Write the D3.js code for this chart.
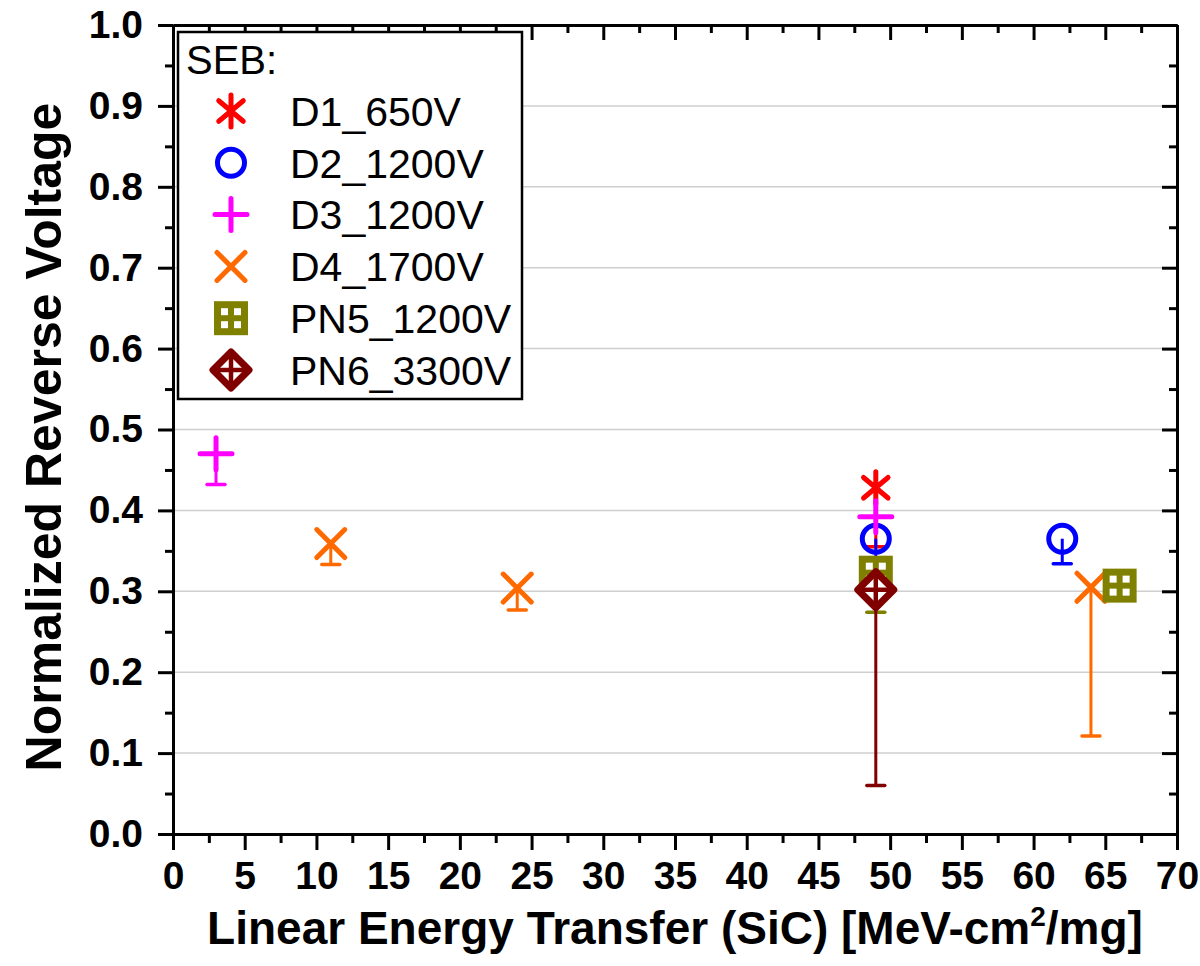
<!DOCTYPE html>
<html>
<head>
<meta charset="utf-8">
<script src="https://cdn.jsdelivr.net/npm/d3@7"></script>
<style>
  html, body { margin: 0; padding: 0; background: #fff; }
  svg text { font-family: "Liberation Sans", Arial, sans-serif; }
</style>
</head>
<body>
<div id="chart"></div>
<script>
// Our canvas
const width = 1200,
  height = 966

const plotLeft = 173,
  plotRight = 1177,
  plotTop = 25,
  plotBottom = 834

// Data (LET in MeV-cm2/mg, normalized reverse voltage, lower error end)
const seriesNames = ['D1_650V', 'D2_1200V', 'D3_1200V', 'D4_1700V', 'PN5_1200V', 'PN6_3300V']
const seriesColors = ['#ff0000', '#0000ff', '#ff00ff', '#ff6a00', '#808000', '#800000']
const seriesSymbols = ['asterisk', 'circle', 'plus', 'cross', 'square', 'diamond']

const d1X = [49], d1Y = [0.428], d1Low = [0.355]
const d2X = [49, 62], d2Y = [0.365, 0.365], d2Low = [0.333, 0.334]
const d3X = [3, 49], d3Y = [0.470, 0.392], d3Low = [0.432, null]
const d4X = [11, 24, 64], d4Y = [0.359, 0.304, 0.305], d4Low = [0.333, 0.277, 0.121]
const pn5X = [49, 66], pn5Y = [0.323, 0.307], pn5Low = [0.274, null]
const pn6X = [49], pn6Y = [0.302], pn6Low = [0.060]

const xTicks = [0, 5, 10, 15, 20, 25, 30, 35, 40, 45, 50, 55, 60, 65, 70]
const yTicks = [0.0, 0.1, 0.2, 0.3, 0.4, 0.5, 0.6, 0.7, 0.8, 0.9, 1.0]
const xMinorTicks = [2.5, 7.5, 12.5, 17.5, 22.5, 27.5, 32.5, 37.5, 42.5, 47.5, 52.5, 57.5, 62.5, 67.5]
const yMinorTicks = [0.05, 0.15, 0.25, 0.35, 0.45, 0.55, 0.65, 0.75, 0.85, 0.95]

const legendTitle = 'SEB:'
const xTitle = 'Linear Energy Transfer (SiC) [MeV-cm'
const xTitleSup = '2'
const xTitleEnd = '/mg]'
const yTitle = 'Normalized Reverse Voltage'

const allX = [d1X, d2X, d3X, d4X, pn5X, pn6X],
  allY = [d1Y, d2Y, d3Y, d4Y, pn5Y, pn6Y],
  allLow = [d1Low, d2Low, d3Low, d4Low, pn5Low, pn6Low]

let series = seriesNames.map((name, i) => ({
  name: name,
  color: seriesColors[i],
  symbol: seriesSymbols[i],
  points: allX[i].map((x, j) => ({ x: x, y: allY[i][j], low: allLow[i][j] }))
}))

let xScale = d3.scaleLinear().domain([0, 70]).range([plotLeft, plotRight])
let yScale = d3.scaleLinear().domain([0, 1]).range([plotBottom, plotTop])

// Drawing area
let svg = d3.select('#chart')
  .append('svg')
  .attr('width', width)
  .attr('height', height)

// grid lines
svg.append('g')
  .selectAll('line')
  .data(yTicks.filter(t => t > 0 && t < 1))
  .enter()
  .append('line')
  .attr('x1', plotLeft)
  .attr('x2', plotRight)
  .attr('y1', d => yScale(d))
  .attr('y2', d => yScale(d))
  .attr('stroke', '#cfcfcf')
  .attr('stroke-width', 1.5)

// markers
let drawMarker = (g, symbol, color) => {
  let sw = 5
  if (symbol === 'asterisk') {
    let r = 16, a = 40 * Math.PI / 180
    let dx = r * Math.cos(a), dy = r * Math.sin(a)
    g.append('path')
      .attr('d', `M0,${-r}L0,${r}M${-dx},${-dy}L${dx},${dy}M${-dx},${dy}L${dx},${-dy}`)
      .attr('stroke', color).attr('stroke-width', sw).attr('stroke-linecap', 'round').attr('fill', 'none')
  } else if (symbol === 'circle') {
    g.append('circle').attr('r', 13.5)
      .attr('stroke', color).attr('stroke-width', sw).attr('fill', 'none')
  } else if (symbol === 'plus') {
    let r = 16
    g.append('path').attr('d', `M${-r},0L${r},0M0,${-r}L0,${r}`)
      .attr('stroke', color).attr('stroke-width', sw).attr('stroke-linecap', 'round').attr('fill', 'none')
  } else if (symbol === 'cross') {
    let r = 14
    g.append('path').attr('d', `M${-r},${-r}L${r},${r}M${-r},${r}L${r},${-r}`)
      .attr('stroke', color).attr('stroke-width', sw).attr('stroke-linecap', 'round').attr('fill', 'none')
  } else if (symbol === 'square') {
    let r = 17
    g.append('rect').attr('x', -r).attr('y', -r).attr('width', 2 * r).attr('height', 2 * r)
      .attr('fill', color)
    ;[[-10, -10], [3, -10], [-10, 3], [3, 3]].forEach(p => {
      g.append('rect').attr('x', p[0]).attr('y', p[1]).attr('width', 7).attr('height', 7)
        .attr('fill', '#fff')
    })
  } else if (symbol === 'diamond') {
    let r = 18
    g.append('path').attr('d', `M0,${-r}L${r},0L0,${r}L${-r},0Z`)
      .attr('stroke', color).attr('stroke-width', 7).attr('stroke-linejoin', 'round').attr('fill', '#fff')
    g.append('path').attr('d', `M${-r},0L${r},0M0,${-r}L0,${r}`)
      .attr('stroke', color).attr('stroke-width', 4.5).attr('fill', 'none')
  }
}

// error bars + points
series.forEach(s => {
  let g = svg.append('g')
  s.points.forEach(p => {
    if (p.low !== null) {
      g.append('line')
        .attr('x1', xScale(p.x)).attr('x2', xScale(p.x))
        .attr('y1', yScale(p.y)).attr('y2', yScale(p.low))
        .attr('stroke', s.color).attr('stroke-width', 3)
      g.append('line')
        .attr('x1', xScale(p.x) - 9).attr('x2', xScale(p.x) + 9)
        .attr('y1', yScale(p.low)).attr('y2', yScale(p.low))
        .attr('stroke', s.color).attr('stroke-width', 3.5).attr('stroke-linecap', 'round')
    }
  })
  s.points.forEach(p => {
    let m = g.append('g').attr('transform', `translate(${xScale(p.x)},${yScale(p.y)})`)
    drawMarker(m, s.symbol, s.color)
  })
})

// axes
let styleAxis = (g) => {
  g.select('.domain').attr('stroke-width', 3)
  g.selectAll('.tick line').attr('stroke-width', 3)
  g.selectAll('text')
    .attr('font-size', 39)
    .attr('font-weight', 'bold')
    .attr('fill', '#000')
}

let x_axis = d3.axisBottom(xScale).tickValues(xTicks).tickSize(16).tickSizeOuter(0).tickPadding(11)
  .tickFormat(d3.format('d'))
svg.append('g').attr('transform', `translate(0,${plotBottom})`).call(x_axis).call(styleAxis)
svg.append('g').attr('transform', `translate(0,${plotBottom})`)
  .call(d3.axisBottom(xScale).tickValues(xMinorTicks).tickSize(9).tickSizeOuter(0).tickFormat(''))
  .call(styleAxis)

let y_axis = d3.axisLeft(yScale).tickValues(yTicks).tickSize(15).tickSizeOuter(0).tickPadding(15)
  .tickFormat(d3.format('.1f'))
svg.append('g').attr('transform', `translate(${plotLeft},0)`).call(y_axis).call(styleAxis)
svg.append('g').attr('transform', `translate(${plotLeft},0)`)
  .call(d3.axisLeft(yScale).tickValues(yMinorTicks).tickSize(8).tickSizeOuter(0).tickFormat(''))
  .call(styleAxis)

// top and right frame with inward ticks
svg.append('g').attr('transform', `translate(0,${plotTop})`)
  .call(d3.axisTop(xScale).tickValues(xTicks).tickSize(-15).tickSizeOuter(0).tickFormat(''))
  .call(styleAxis)
svg.append('g').attr('transform', `translate(0,${plotTop})`)
  .call(d3.axisTop(xScale).tickValues(xMinorTicks).tickSize(-8).tickSizeOuter(0).tickFormat(''))
  .call(styleAxis)
svg.append('g').attr('transform', `translate(${plotRight},0)`)
  .call(d3.axisRight(yScale).tickValues(yTicks).tickSize(-15).tickSizeOuter(0).tickFormat(''))
  .call(styleAxis)
svg.append('g').attr('transform', `translate(${plotRight},0)`)
  .call(d3.axisRight(yScale).tickValues(yMinorTicks).tickSize(-8).tickSizeOuter(0).tickFormat(''))
  .call(styleAxis)

// axis titles
let xt = svg.append('text')
  .attr('x', (plotLeft + plotRight) / 2)
  .attr('y', 944)
  .attr('text-anchor', 'middle')
  .attr('font-size', 46)
  .attr('font-weight', 'bold')
xt.append('tspan').text(xTitle)
xt.append('tspan').attr('font-size', 28).attr('dy', -18).text(xTitleSup)
xt.append('tspan').attr('dy', 18).text(xTitleEnd)

svg.append('text')
  .attr('transform', `translate(61,${437}) rotate(-90)`)
  .attr('text-anchor', 'middle')
  .attr('font-size', 50)
  .attr('font-weight', 'bold')
  .text(yTitle)

// legend
let legend = svg.append('g')
legend.append('rect')
  .attr('x', 178).attr('y', 32).attr('width', 344).attr('height', 367)
  .attr('fill', '#fff').attr('stroke', '#000').attr('stroke-width', 2.5)
legend.append('text')
  .attr('x', 186).attr('y', 74)
  .attr('font-size', 40)
  .text(legendTitle)
series.forEach((s, i) => {
  let cy = 111 + i * 51.8
  let m = legend.append('g').attr('transform', `translate(231,${cy})`)
  drawMarker(m, s.symbol, s.color)
  legend.append('text')
    .attr('x', 290).attr('y', cy)
    .attr('dy', '0.36em')
    .attr('font-size', 41)
    .text(s.name)
})
</script>
</body>
</html>
